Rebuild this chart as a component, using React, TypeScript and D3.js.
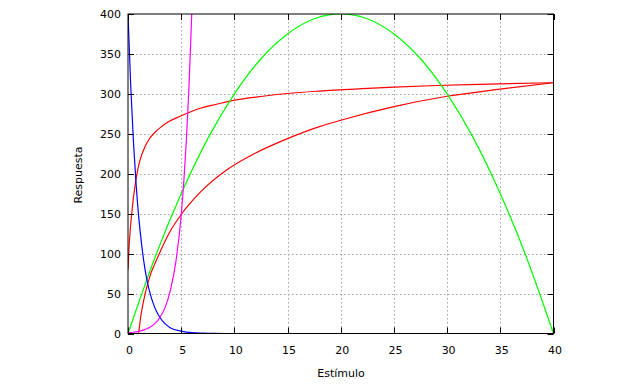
import React from "react";
import * as d3 from "d3";

const xTicks = [0, 5, 10, 15, 20, 25, 30, 35, 40];
const yTicks = [0, 50, 100, 150, 200, 250, 300, 350, 400];

const blueX = [0, 0.25, 0.5, 0.75, 1, 1.25, 1.5, 1.75, 2, 2.5, 3, 3.5, 4, 5, 6, 7, 8, 10, 15, 20, 30, 40];
const blueY = [400, 312, 243, 189, 147, 115, 89, 69, 54, 33, 20, 12, 7, 3, 1, 0.4, 0.1, 0, 0, 0, 0, 0];

const magentaX = [0, 0.5, 1, 1.5, 2, 2.5, 3, 3.5, 4, 4.5, 5, 5.25, 5.5, 5.75, 6];
const magentaY = [1, 1.6, 2.7, 4.5, 7.4, 12, 20, 33, 55, 90, 148, 191, 245, 314, 403];

const red1X = [0, 0.1, 0.2, 0.35, 0.5, 0.66, 0.9, 1.13, 1.6, 2, 2.54, 3.2, 3.8, 4.9, 5.8, 6.8, 8, 9.6, 12, 15, 18, 22, 25, 29, 35, 40];
const red1Y = [80, 108, 128, 150, 169, 185, 204, 217, 234, 243.5, 252, 259.5, 265, 272, 277, 282, 286, 291, 296, 300.5, 303.5, 306.5, 308.5, 310.5, 312.5, 314];

const red2X = [1, 1.2, 1.45, 1.9, 2.85, 3.8, 5, 6.8, 9.3, 12, 15, 18, 20, 25, 30, 35, 40];
const red2Y = [0, 21, 40, 65, 97, 124, 149, 177, 205, 226, 244, 259, 267, 284, 297, 306, 314];

const greenX = [0, 2.5, 5, 7.5, 10, 12.5, 15, 17.5, 20, 22.5, 25, 27.5, 30, 32.5, 35, 37.5, 40];
const greenY = [0, 94, 175, 244, 300, 344, 375, 394, 400, 394, 375, 344, 300, 244, 175, 94, 0];

const W = 640;
const H = 384;
const L = 128;
const R = 553.5;
const T = 14;
const B = 333.5;
const FONT = "'DejaVu Sans', Verdana, sans-serif";

export default function App() {
  const x = d3.scaleLinear().domain([0, 40]).range([L, R]);
  const y = d3.scaleLinear().domain([0, 400]).range([B, T]);

  const mk = (xs: number[], ys: number[], curve: any) =>
    d3
      .line<number>()
      .x((_, i) => x(xs[i]))
      .y((_, i) => y(ys[i]))
      .curve(curve)(xs) as string;

  const series = [
    { d: mk(red1X, red1Y, d3.curveMonotoneX), c: "#ff0000" },
    { d: mk(red2X, red2Y, d3.curveMonotoneX), c: "#ff0000" },
    { d: mk(greenX, greenY, d3.curveNatural), c: "#00ff00" },
    { d: mk(blueX, blueY, d3.curveMonotoneX), c: "#0000ff" },
    { d: mk(magentaX, magentaY, d3.curveMonotoneX), c: "#ff00ff" },
  ];

  const tl = 6;

  return (
    <svg
      width={W}
      height={H}
      style={{ position: "absolute", left: 0, top: 0, background: "#fff" }}
      fontFamily={FONT}
    >
      <defs>
        <clipPath id="plotclip">
          <rect x={L} y={T} width={R - L} height={B - T} />
        </clipPath>
      </defs>
      <rect x={0} y={0} width={W} height={H} fill="#fff" />
      <g stroke="#a0a0a0" strokeWidth={1} strokeDasharray="1.5,2.5">
        {xTicks.slice(1, -1).map((t) => (
          <line key={"gx" + t} x1={Math.round(x(t)) + 0.5} x2={Math.round(x(t)) + 0.5} y1={T} y2={B} />
        ))}
        {yTicks.slice(1, -1).map((t) => (
          <line key={"gy" + t} x1={L} x2={R} y1={Math.round(y(t)) + 0.5} y2={Math.round(y(t)) + 0.5} />
        ))}
      </g>
      <g clipPath="url(#plotclip)" fill="none" strokeWidth={1.2}>
        {series.map((s, i) => (
          <path key={i} d={s.d} stroke={s.c} />
        ))}
      </g>
      <g stroke="#000" strokeWidth={1} fill="none">
        <rect x={L} y={T} width={R - L} height={B - T} />
        {xTicks.map((t) => (
          <g key={"tx" + t}>
            <line x1={Math.round(x(t)) + 0.5} x2={Math.round(x(t)) + 0.5} y1={B} y2={B - tl} />
            <line x1={Math.round(x(t)) + 0.5} x2={Math.round(x(t)) + 0.5} y1={T} y2={T + tl} />
          </g>
        ))}
        {yTicks.map((t) => (
          <g key={"ty" + t}>
            <line x1={L} x2={L + tl} y1={Math.round(y(t)) + 0.5} y2={Math.round(y(t)) + 0.5} />
            <line x1={R} x2={R - tl} y1={Math.round(y(t)) + 0.5} y2={Math.round(y(t)) + 0.5} />
          </g>
        ))}
      </g>
      <g fontSize={11} fill="#000">
        {xTicks.map((t) => (
          <text key={"lx" + t} x={x(t) + 1.5} y={354} textAnchor="middle">
            {t}
          </text>
        ))}
        {yTicks.map((t) => (
          <text key={"ly" + t} x={121} y={y(t) + 4} textAnchor="end">
            {t}
          </text>
        ))}
      </g>
      <text x={341} y={377} textAnchor="middle" fontSize={11} fill="#000">
        Estímulo
      </text>
      <text transform={`translate(82,175) rotate(-90)`} textAnchor="middle" fontSize={11} fill="#000">
        Respuesta
      </text>
    </svg>
  );
}
